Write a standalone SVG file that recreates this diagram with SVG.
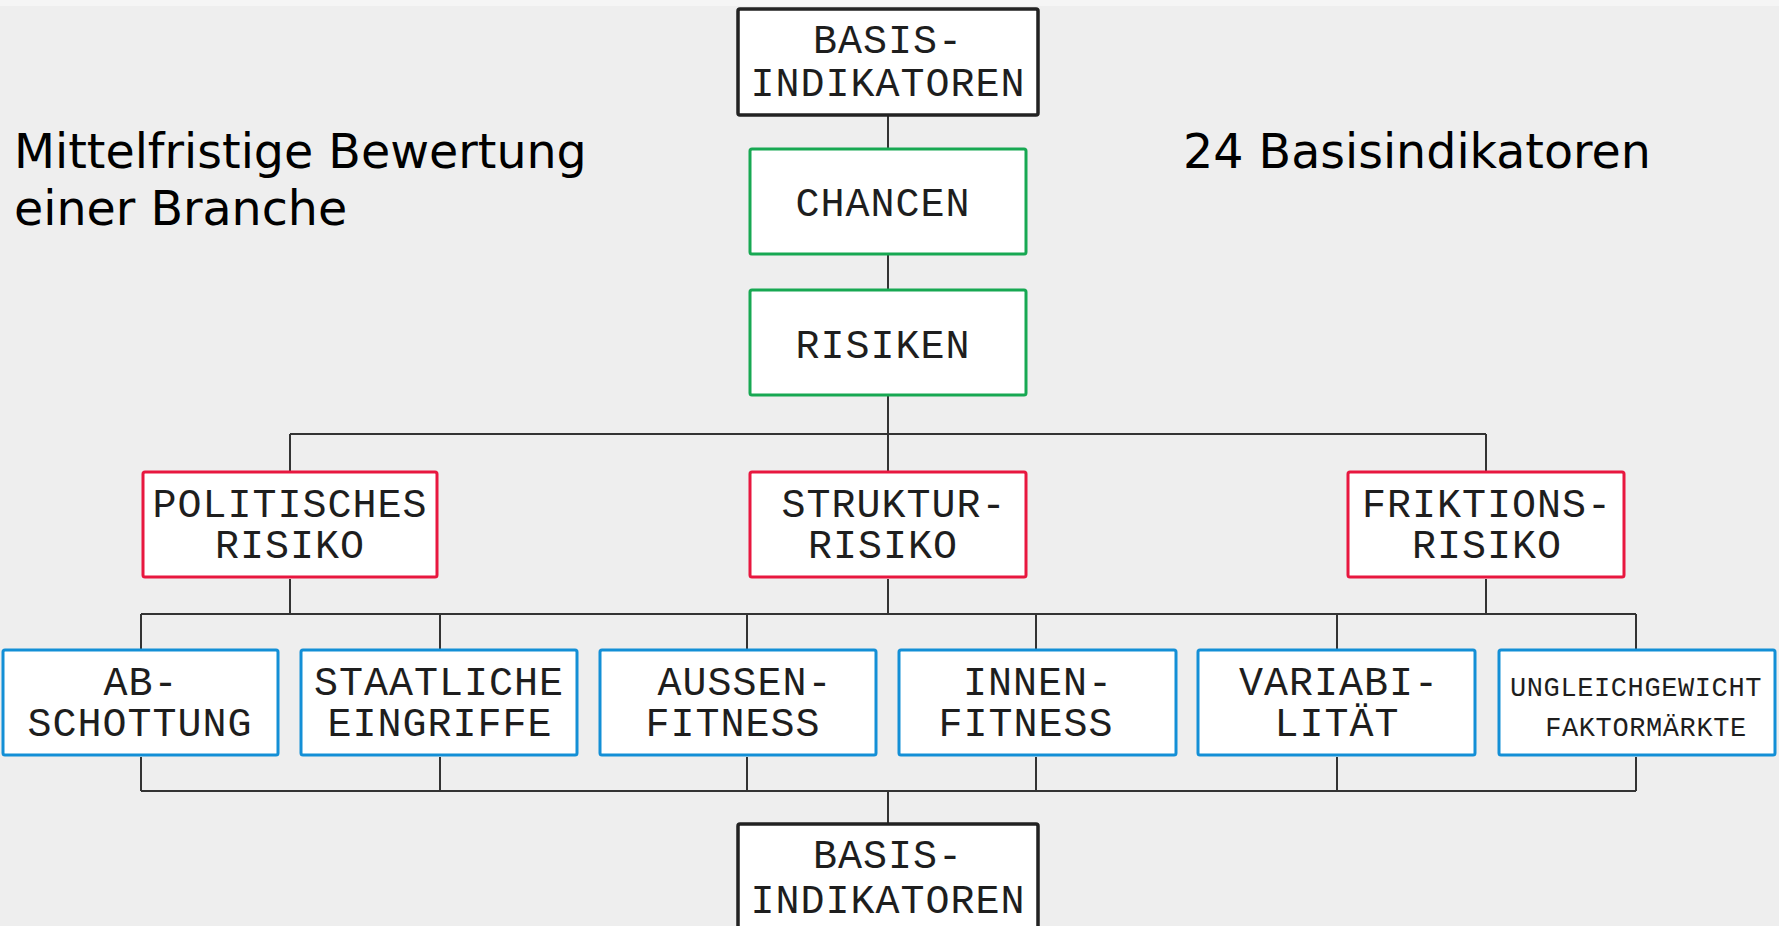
<svg xmlns="http://www.w3.org/2000/svg" width="1779" height="926" viewBox="0 0 1779 926">
<style>
.bg{fill:#eeeeee}
.box{fill:#ffffff;stroke-width:3}
.k{stroke:#222222;stroke-width:3.5}
.g{stroke:#17a852}
.r{stroke:#e8173f}
.b{stroke:#138fd6}
.t{font-family:"Liberation Mono","DejaVu Sans Mono",monospace;font-size:40px;letter-spacing:1px;fill:#1e1e1e;text-anchor:middle}
.s{font-family:"Liberation Mono","DejaVu Sans Mono",monospace;font-size:27px;letter-spacing:0.6px;fill:#1e1e1e;text-anchor:middle}
.h{font-family:"DejaVu Sans",sans-serif;font-size:47.5px;fill:#000000}
.c{stroke:#333333;stroke-width:2;fill:none}
</style>
<rect class="bg" x="0" y="0" width="1779" height="926"/>
<rect x="0" y="0" width="1779" height="6" fill="#f5f5f5"/>

<g id="connectors">
<path class="c" d="M888 116V148M888 255V290M888 396V434M290 434H1486M290 434V471M888 434V471M1486 434V471"/>
<path class="c" d="M290 579V614M888 579V614M1486 579V614M141 614H1636M141 614V649M440 614V649M747 614V649M1036 614V649M1337 614V649M1636 614V649"/>
<path class="c" d="M141 757V791M440 757V791M747 757V791M1036 757V791M1337 757V791M1636 757V791M141 791H1636M888 791V823"/>
</g>

<g id="title-left">
<text class="h" x="14" y="168">Mittelfristige Bewertung</text>
<text class="h" x="14" y="225">einer Branche</text>
</g>
<g id="title-right">
<text class="h" x="1183" y="168">24 Basisindikatoren</text>
</g>

<g id="basis-top">
<rect class="box k" x="738" y="9" width="300" height="106" rx="2"/>
<text class="t" x="888" y="53">BASIS-</text>
<text class="t" x="888" y="96">INDIKATOREN</text>
</g>
<g id="chancen">
<rect class="box g" x="750" y="149" width="276" height="105" rx="2"/>
<text class="t" x="883" y="216">CHANCEN</text>
</g>
<g id="risiken">
<rect class="box g" x="750" y="290" width="276" height="105" rx="2"/>
<text class="t" x="883" y="358">RISIKEN</text>
</g>

<g id="politisches-risiko">
<rect class="box r" x="143" y="472" width="294" height="105" rx="2"/>
<text class="t" x="290" y="517">POLITISCHES</text>
<text class="t" x="290" y="558">RISIKO</text>
</g>
<g id="struktur-risiko">
<rect class="box r" x="750" y="472" width="276" height="105" rx="2"/>
<text class="t" x="894" y="517">STRUKTUR-</text>
<text class="t" x="883" y="558">RISIKO</text>
</g>
<g id="friktions-risiko">
<rect class="box r" x="1348" y="472" width="276" height="105" rx="2"/>
<text class="t" x="1487" y="517">FRIKTIONS-</text>
<text class="t" x="1487" y="558">RISIKO</text>
</g>

<g id="abschottung">
<rect class="box b" x="3" y="650" width="275" height="105" rx="2"/>
<text class="t" x="141" y="695">AB-</text>
<text class="t" x="140" y="736">SCHOTTUNG</text>
</g>
<g id="staatliche-eingriffe">
<rect class="box b" x="301" y="650" width="276" height="105" rx="2"/>
<text class="t" x="439" y="695">STAATLICHE</text>
<text class="t" x="440" y="736">EINGRIFFE</text>
</g>
<g id="aussen-fitness">
<rect class="box b" x="600" y="650" width="276" height="105" rx="2"/>
<text class="t" x="745" y="695">AUSSEN-</text>
<text class="t" x="733" y="736">FITNESS</text>
</g>
<g id="innen-fitness">
<rect class="box b" x="899" y="650" width="277" height="105" rx="2"/>
<text class="t" x="1038" y="695">INNEN-</text>
<text class="t" x="1026" y="736">FITNESS</text>
</g>
<g id="variabilitaet">
<rect class="box b" x="1198" y="650" width="277" height="105" rx="2"/>
<text class="t" x="1339" y="695">VARIABI-</text>
<text class="t" x="1337" y="736">LITÄT</text>
</g>
<g id="ungleichgewicht">
<rect class="box b" x="1499" y="650" width="276" height="105" rx="2"/>
<text class="s" x="1636" y="696">UNGLEICHGEWICHT</text>
<text class="s" x="1646" y="736">FAKTORMÄRKTE</text>
</g>

<g id="basis-bottom">
<rect class="box k" x="738" y="824" width="300" height="120" rx="2"/>
<text class="t" x="888" y="868">BASIS-</text>
<text class="t" x="888" y="913">INDIKATOREN</text>
</g>
</svg>
